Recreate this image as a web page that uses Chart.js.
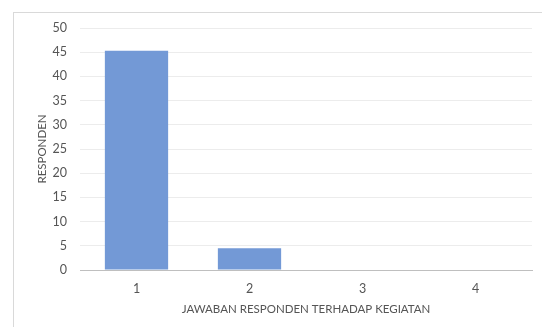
<!DOCTYPE html>
<html>
<head>
<meta charset="utf-8">
<script src="https://cdn.jsdelivr.net/npm/chart.js@4/dist/chart.umd.min.js"></script>
<style>
  body { margin: 0; background: #fff; }
  #wrap { position: relative; width: 542px; height: 327px; overflow: hidden; }
  #bingkai { position: absolute; left: 13px; top: 12px; width: 600px; height: 400px; border: 1px solid #d9d9d9; }
  canvas { position: absolute; left: 0; top: 0; }
</style>
</head>
<body>
<div id="wrap">
  <div id="bingkai"></div>
  <canvas id="grafik" width="542" height="327"></canvas>
</div>
<script>
// data
const kategori = ['1', '2', '3', '4'];
const jumlahResponden = [45.3, 4.5, 0, 0];
const judulX = 'JAWABAN RESPONDEN TERHADAP KEGIATAN';
const judulY = 'RESPONDEN';

const warnaTeks = '#555555';
const hurufDasar = { family: 'Lato, "Open Sans", sans-serif', size: 12.5 };
const hurufJudul = { family: 'Lato, "Open Sans", sans-serif', size: 11.5 };

const ctx = document.getElementById('grafik').getContext('2d');
new Chart(ctx, {
    type: 'bar',
    data: {
        labels: kategori,
        datasets: [{
            data: jumlahResponden,
            backgroundColor: '#7399d6',
            borderWidth: 0,
            categoryPercentage: 0.56,
            barPercentage: 1,
        }],
    },
    options: {
        responsive: false,
        animation: false,
        layout: { padding: { top: 28, right: 10, left: 0, bottom: 0 } },
        plugins: { legend: { display: false }, tooltip: { enabled: false } },
        scales: {
            x: {
                grid: { display: false, drawTicks: false },
                border: { color: '#bfbfbf', width: 1 },
                ticks: { color: warnaTeks, font: hurufDasar, padding: 11 },
                title: { display: true, text: judulX, color: warnaTeks, font: hurufJudul, padding: { top: 0, bottom: 11 } },
                afterFit: (s) => { s.height = 57; },
            },
            y: {
                min: 0, max: 50,
                ticks: { stepSize: 5, color: warnaTeks, font: hurufDasar, padding: 13 },
                grid: { color: '#ececec', drawTicks: false },
                border: { display: false },
                title: { display: true, text: judulY, color: warnaTeks, font: hurufJudul, padding: { top: 35, bottom: 0 } },
                afterFit: (s) => { s.width = 80; },
            },
        },
    },
});
</script>
</body>
</html>
